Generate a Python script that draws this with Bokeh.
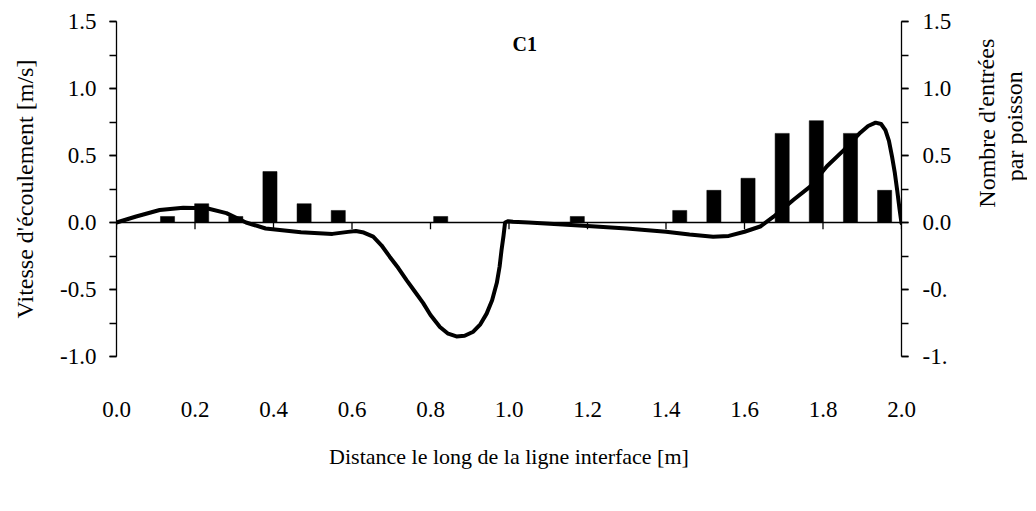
from bokeh.plotting import figure
from bokeh.layouts import row
from bokeh.models import (Span, Label, LinearAxis, FixedTicker, PrintfTickFormatter,
                          SingleIntervalTicker, Range1d)
from bokeh.embed import file_html
from bokeh.resources import INLINE

# ---- data ----
dist = [0.00, 0.05, 0.11, 0.17, 0.23, 0.28, 0.33, 0.38, 0.47, 0.55, 0.59, 0.61,
        0.63, 0.654, 0.675, 0.696, 0.718, 0.739, 0.76, 0.781, 0.80, 0.824,
        0.845, 0.866, 0.887, 0.909, 0.927, 0.943, 0.957, 0.969, 0.976, 0.981,
        0.986, 0.990, 0.998, 1.01, 1.05, 1.19, 1.30, 1.40, 1.46, 1.52, 1.56,
        1.60, 1.64, 1.674, 1.725, 1.768, 1.81, 1.853, 1.895, 1.915, 1.934,
        1.948, 1.959, 1.968, 1.976, 1.983, 1.989, 1.995, 2.00]
vitesse = [0.00, 0.045, 0.093, 0.11, 0.106, 0.07, 0.00, -0.045, -0.072, -0.085,
           -0.07, -0.063, -0.075, -0.106, -0.17, -0.255, -0.34, -0.43, -0.515,
           -0.60, -0.69, -0.78, -0.83, -0.85, -0.845, -0.815, -0.76, -0.68,
           -0.58, -0.45, -0.33, -0.205, -0.10, 0.00, 0.01, 0.005, 0.00, -0.024,
           -0.045, -0.069, -0.09, -0.106, -0.10, -0.069, -0.03, 0.043, 0.17,
           0.27, 0.42, 0.54, 0.67, 0.72, 0.745, 0.735, 0.69, 0.61, 0.49, 0.37,
           0.24, 0.10, -0.005]

bar_x = [0.130, 0.217, 0.304, 0.391, 0.478, 0.565, 0.826, 1.174, 1.435, 1.522,
         1.609, 1.696, 1.783, 1.870, 1.957]
entrees = [0.045, 0.14, 0.045, 0.38, 0.14, 0.09, 0.045, 0.045, 0.09, 0.24,
           0.33, 0.665, 0.76, 0.665, 0.24]

x_ticks = [0.0, 0.2, 0.4, 0.6, 0.8, 1.0, 1.2, 1.4, 1.6, 1.8, 2.0]
y_ticks = [-1.0, -0.5, 0.0, 0.5, 1.0, 1.5]
right_labels = ["-1.", "-0.", "0.0", "0.5", "1.0", "1.5"]
right_title = ["Nombre d'entrées", "par  poisson"]

FONT = "Liberation Serif"
TICK_SIZE = "23px"

p = figure(frame_width=785, frame_height=335,
           min_border_left=116, min_border_right=52,
           min_border_top=21, min_border_bottom=138,
           x_range=Range1d(0, 2), y_range=Range1d(-1, 1.5),
           output_backend="svg", toolbar_location=None)
p.outline_line_color = None
p.xgrid.visible = False
p.ygrid.visible = False

# bars
p.vbar(x=bar_x, top=entrees, bottom=0, width=0.036,
       fill_color="black", line_color="black", line_width=0.5)

# zero line with ticks
p.add_layout(Span(location=0, dimension="width", line_color="black", line_width=1.3))
p.segment(x0=x_ticks, y0=[0] * len(x_ticks), x1=x_ticks, y1=[-0.05] * len(x_ticks),
          line_color="black", line_width=1.3)

# curve
p.line(dist, vitesse, line_color="black", line_width=4, line_join="round",
       line_cap="round")

# bottom axis: labels only
xa = p.xaxis[0]
xa.ticker = FixedTicker(ticks=x_ticks)
xa.formatter = PrintfTickFormatter(format="%.1f")
xa.axis_line_color = None
xa.major_tick_line_color = None
xa.minor_tick_line_color = None
xa.major_tick_out = 0
xa.major_tick_in = 0
xa.major_label_standoff = 45
xa.major_label_text_font = FONT
xa.major_label_text_font_size = TICK_SIZE
xa.major_label_text_color = "black"
xa.axis_label = "Distance le long de la ligne interface [m]"
xa.axis_label_text_font = FONT
xa.axis_label_text_font_style = "normal"
xa.axis_label_text_font_size = "22px"
xa.axis_label_text_color = "black"
xa.axis_label_standoff = 24

# left axis
ya = p.yaxis[0]
ya.ticker = SingleIntervalTicker(interval=0.5, num_minor_ticks=2)
ya.formatter = PrintfTickFormatter(format="%.1f")
ya.axis_line_color = "black"
ya.axis_line_width = 1.3
ya.major_tick_line_color = "black"
ya.major_tick_line_width = 1.3
ya.minor_tick_line_color = "black"
ya.minor_tick_line_width = 1.3
ya.major_tick_out = 7
ya.major_tick_in = 0
ya.minor_tick_out = 7
ya.minor_tick_in = 0
ya.major_label_standoff = 13
ya.major_label_text_font = FONT
ya.major_label_text_font_size = TICK_SIZE
ya.major_label_text_color = "black"
ya.axis_label = "Vitesse d'écoulement [m/s]"
ya.axis_label_text_font = FONT
ya.axis_label_text_font_style = "normal"
ya.axis_label_text_font_size = "24px"
ya.axis_label_text_color = "black"
ya.axis_label_standoff = 19

# right axis
ra = LinearAxis(ticker=SingleIntervalTicker(interval=0.5, num_minor_ticks=2))
ra.major_label_overrides = {t: s for t, s in zip(y_ticks, right_labels)}
ra.axis_line_color = "black"
ra.axis_line_width = 1.3
ra.major_tick_line_color = "black"
ra.major_tick_line_width = 1.3
ra.minor_tick_line_color = "black"
ra.minor_tick_line_width = 1.3
ra.major_tick_out = 7
ra.major_tick_in = 0
ra.minor_tick_out = 7
ra.minor_tick_in = 0
ra.major_label_standoff = 14
ra.major_label_text_font = FONT
ra.major_label_text_font_size = TICK_SIZE
ra.major_label_text_color = "black"
p.add_layout(ra, "right")

# panel title
p.add_layout(Label(x=1.04, y=1.33, text="C1", text_align="center",
                   text_baseline="middle", text_font=FONT,
                   text_font_style="bold", text_font_size="20px", text_color="black"))

# side panel holding the right-hand axis title (two lines reading upward)
W2, H2 = 1026 - (116 + 785 + 52), 494
p2 = figure(width=W2, height=H2, x_range=Range1d(0, W2), y_range=Range1d(0, H2),
            min_border=0, output_backend="svg", toolbar_location=None)
p2.axis.visible = False
p2.xgrid.visible = False
p2.ygrid.visible = False
p2.outline_line_color = None
for txt, xx in zip(right_title, [W2 - 41, W2 - 13]):
    p2.add_layout(Label(x=xx, y=H2 - 150, text=txt, angle=1.5708,
                        text_align="center", text_baseline="middle",
                        text_font=FONT, text_font_size="24px", text_color="black"))

layout = row(p, p2, spacing=0)
open("out.html", "w").write(file_html(layout, INLINE))
